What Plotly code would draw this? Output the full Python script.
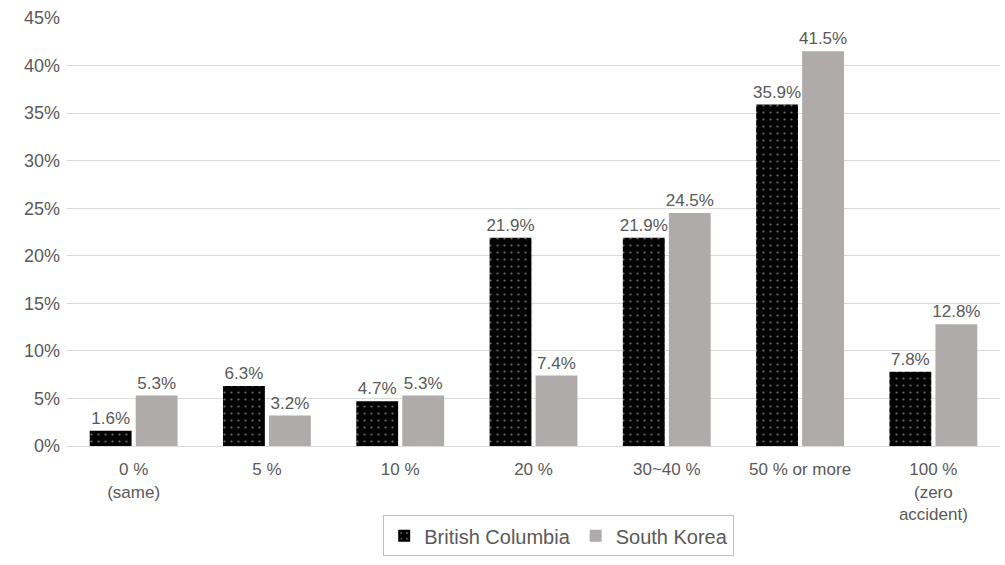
import plotly.graph_objects as go

categories = ["0 %<br>(same)", "5 %", "10 %", "20 %", "30~40 %", "50 % or more", "100 %<br>(zero<br>accident)"]
british_columbia = [1.6, 6.3, 4.7, 21.9, 21.9, 35.9, 7.8]
south_korea = [5.3, 3.2, 5.3, 7.4, 24.5, 41.5, 12.8]
y_ticks = [0, 5, 10, 15, 20, 25, 30, 35, 40, 45]

font_color = "#595959"
font_family = "Liberation Sans, Arial, sans-serif"

fig = go.Figure()
fig.add_trace(go.Bar(
    name="British Columbia",
    x=categories,
    y=british_columbia,
    text=[f"{v:.1f}%" for v in british_columbia],
    textposition="outside",
    cliponaxis=False,
    marker=dict(
        color="black",
        line=dict(width=0),
        pattern=dict(shape=".", fgcolor="#DDDDDD", bgcolor="black", size=7, solidity=0.08),
    ),
))
fig.add_trace(go.Bar(
    name="South Korea",
    x=categories,
    y=south_korea,
    text=[f"{v:.1f}%" for v in south_korea],
    textposition="outside",
    cliponaxis=False,
    marker=dict(color="#AFABAB", line=dict(width=0)),
))

fig.update_traces(textfont=dict(size=17, color=font_color, family=font_family))

fig.update_layout(
    width=1005,
    height=565,
    margin=dict(l=67, r=5, t=18, b=119),
    plot_bgcolor="white",
    paper_bgcolor="white",
    barmode="group",
    bargap=0.31,
    bargroupgap=0.09,
    font=dict(family=font_family, size=17, color=font_color),
    uniformtext=dict(minsize=17, mode="show"),
    legend=dict(
        orientation="h",
        x=0.527,
        xanchor="center",
        y=-0.162,
        yanchor="top",
        bordercolor="#BFBFBF",
        borderwidth=1,
        font=dict(size=20, color=font_color),
        itemwidth=30,
    ),
    xaxis=dict(
        showgrid=False,
        showline=True,
        linecolor="#D9D9D9",
        linewidth=1,
        ticks="",
        ticklabelstandoff=8,
        tickfont=dict(size=17, color=font_color),
    ),
    yaxis=dict(
        range=[0, 45],
        tickvals=y_ticks,
        ticktext=[f"{t}%" for t in y_ticks],
        showgrid=True,
        gridcolor="#D9D9D9",
        gridwidth=1,
        zeroline=False,
        ticks="",
        ticklen=0,
        ticklabelstandoff=6,
        tickfont=dict(size=18, color=font_color),
    ),
)

fig.write_html("out.html")
